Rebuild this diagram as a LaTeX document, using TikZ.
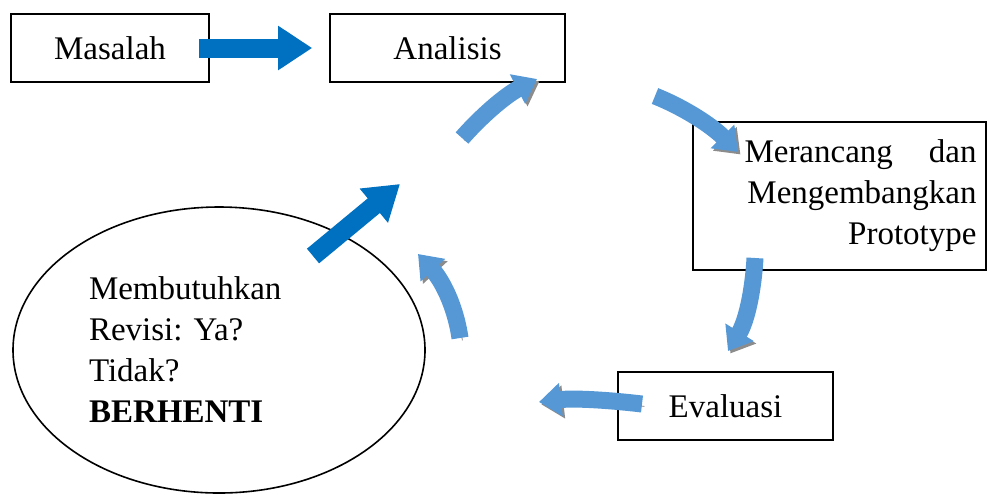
\documentclass[tikz,border=0pt]{standalone}
\usepackage{fontspec}
\setmainfont{Liberation Serif}
\usetikzlibrary{arrows.meta,shapes.geometric}
\definecolor{darkblu}{RGB}{0,112,192}
\definecolor{liteblu}{RGB}{86,152,214}

\begin{document}
\begin{tikzpicture}[x=0.5pt,y=-0.5pt,
  kotak/.style={draw,line width=0.8pt,minimum height=34pt,inner sep=4pt,
    font=\fontsize{16.5}{20.5}\selectfont\frenchspacing},
  panah/.style={darkblu,line width=9.5pt,-{Triangle[width=21pt,length=17pt]}},
  putar/.style={liteblu,line width=8.5pt,-{Triangle[width=16pt,length=11pt]},
    preaction={draw=black!45,transform canvas={shift={(1.2pt,-1.2pt)}}}}]
\useasboundingbox (0,0) rectangle (988,494);
\node[kotak,minimum width=99pt] (mas) at (110,48) {Masalah};
\node[kotak,minimum width=117.5pt] (ana) at (447.5,48) {Analisis};
\node[kotak,minimum width=146.5pt,minimum height=74pt,text width=137pt,align=right] (ran) at (839.5,196)
  {\makebox[116pt]{Merancang\hfill dan}\\ Mengembangkan\\ Prototype};
\node[kotak,minimum width=107.5pt] (eva) at (725.5,406) {Evaluasi};
\node[kotak,ellipse,minimum width=206pt,minimum height=143pt,text width=130pt,align=left] (rev) at (219,350)
  {Membutuhkan\\ Revisi: Ya?\\ Tidak?\\ \textbf{BERHENTI}};
% titik ujung panah putar
\coordinate (p1a) at (462,138); \coordinate (p1b) at (537,79);
\coordinate (p2a) at (655,96);  \coordinate (p2b) at (738,152);
\coordinate (p3a) at (755,258); \coordinate (p3b) at (728,351);
\coordinate (p4a) at (642,404); \coordinate (p4b) at (539,402);
\coordinate (p5a) at (460,338); \coordinate (p5b) at (418,254);
\coordinate (pusat) at (400,184);
\draw[panah,shorten <=-5.5pt,shorten >=8.5pt] (mas.east) -- (ana.west);
\draw[panah] (313,256) -- (pusat);
\draw[putar] (p1a) .. controls (485,112) and (508,94) .. (p1b);
\draw[putar] (p2a) .. controls (685,108) and (712,126) .. (p2b);
\draw[putar] (p3a) .. controls (753,293) and (746,322) .. (p3b);
\draw[putar] (p4a) .. controls (608,400) and (574,398) .. (p4b);
\draw[putar] (p5a) .. controls (455,304) and (441,279) .. (p5b);
\end{tikzpicture}
\end{document}
